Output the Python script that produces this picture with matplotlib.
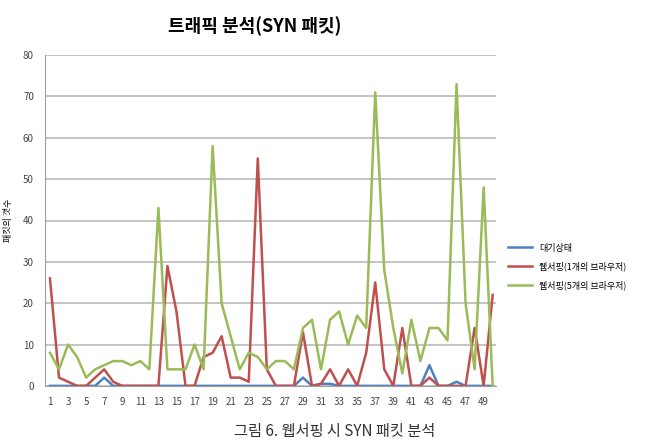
import matplotlib
matplotlib.use("Agg")
import matplotlib.pyplot as plt
import numpy as np

plt.rcParams['font.family'] = ['Noto Sans CJK KR', 'DejaVu Sans']

# 데이터
x = np.arange(1, 51)
idle = [0, 0, 0, 0, 0, 0, 2, 0, 0, 0,
        0, 0, 0, 0, 0, 0, 0, 0, 0, 0,
        0, 0, 0, 0, 0, 0, 0, 0, 2, 0,
        0.5, 0.5, 0, 0, 0, 0, 0, 0, 0, 0,
        0, 0, 5, 0, 0, 1, 0, 0, 0, 0]
web1 = [26, 2, 1, 0, 0, 2, 4, 1, 0, 0,
        0, 0, 0, 29, 18, 0, 0, 7, 8, 12,
        2, 2, 1, 55, 4, 0, 0, 0, 13, 0,
        0.5, 4, 0, 4, 0, 8, 25, 4, 0, 14,
        0, 0, 2, 0, 0, 0, 0, 14, 0, 22]
web5 = [8, 4, 10, 7, 2, 4, 5, 6, 6, 5,
        6, 4, 43, 4, 4, 4, 10, 4, 58, 20,
        12, 4, 8, 7, 4, 6, 6, 4, 14, 16,
        4, 16, 18, 10, 17, 14, 71, 28, 14, 3,
        16, 6, 14, 14, 11, 73, 20, 4, 48, 0]

series = [
    ("대기상태", idle, "#4F81BD"),
    ("웹서핑(1개의 브라우저)", web1, "#C0504D"),
    ("웹서핑(5개의 브라우저)", web5, "#9BBB59"),
]

fig = plt.figure(figsize=(6.62, 4.41), dpi=100)
ax = fig.add_axes([0.068, 0.125, 0.681, 0.75])

for label, vals, color in series:
    ax.plot(x, vals, color=color, lw=1.8, label=label)

ax.set_ylim(0, 80)
ax.set_xlim(0.45, 50.35)
ax.set_yticks(range(0, 81, 10))
ax.set_xticks(range(1, 50, 2))
ax.tick_params(length=0, labelsize=7, colors="#444444", pad=8)
ax.grid(axis='y', color="#BFBFBF", lw=1.3)
ax.set_axisbelow(True)
for s in ['top', 'right']:
    ax.spines[s].set_visible(False)
ax.spines['left'].set_color("#A0A0A0")
ax.spines['bottom'].set_color("#A0A0A0")

ax.set_ylabel("패킷의 갯수", fontsize=6.5, labelpad=7)
fig.text(0.385, 0.94, "트래픽 분석(SYN 패킷)", ha='center', va='center',
         fontsize=13, fontweight='bold')

ax.legend(loc='center left', bbox_to_anchor=(1.01, 0.36), frameon=False,
          fontsize=6.5, handlelength=2.6, labelspacing=1.0)

fig.text(0.505, 0.022, "그림 6. 웹서핑 시 SYN 패킷 분석", ha='center', va='center',
         fontsize=11, color="#333333")

fig.savefig("out.png", dpi=100)
